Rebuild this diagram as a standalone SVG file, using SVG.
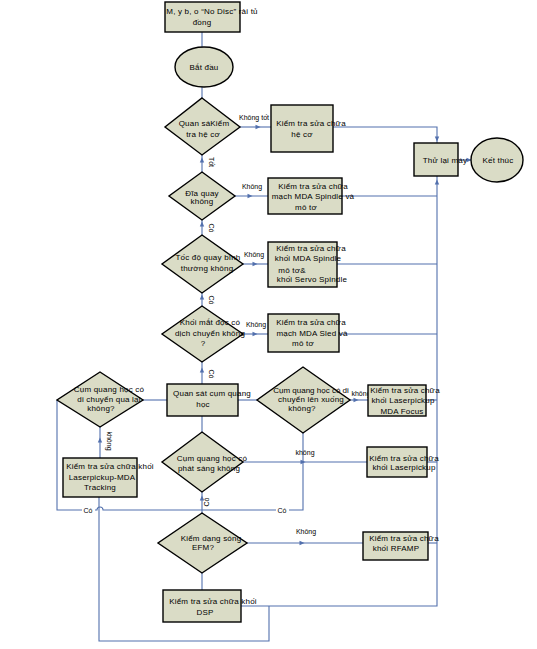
<svg xmlns="http://www.w3.org/2000/svg" xmlns:xlink="http://www.w3.org/1999/xlink" width="537" height="649" viewBox="0 0 537 649">
<style>
.n{fill:#dadcc6;stroke:#000;stroke-width:1.4}
.c{fill:none;stroke:#5270ad;stroke-width:1.1}
.t{font-family:"Liberation Sans",Arial,sans-serif;font-size:8px;fill:#000;text-anchor:middle;letter-spacing:0.2px}
.l{font-family:"Liberation Sans",Arial,sans-serif;font-size:7px;fill:#000;text-anchor:middle}
.ah{fill:#5270ad}
</style>
<defs>
<path id="ah" d="M2.5,0 L-2.5,-2.2 L-2.5,2.2 Z"/>
</defs>
<rect width="537" height="649" fill="#fff"/>
<g id="connectors">
<path class="c" d="M202,32V47"/>
<path class="c" d="M202,87V98"/>
<path class="c" d="M240,127H271"/>
<path class="c" d="M333,127H437V143"/>
<path class="c" d="M202,155V172"/>
<path class="c" d="M235,196H268"/>
<path class="c" d="M342,196H437"/>
<path class="c" d="M202,220V235"/>
<path class="c" d="M243,264H268"/>
<path class="c" d="M337,264H437"/>
<path class="c" d="M202,293V306"/>
<path class="c" d="M243,334H268"/>
<path class="c" d="M339,334H437"/>
<path class="c" d="M202,362V384"/>
<path class="c" d="M143,400H167"/>
<path class="c" d="M238,400H257"/>
<path class="c" d="M350,400H368"/>
<path class="c" d="M426,400H437"/>
<path class="c" d="M202,416V432"/>
<path class="c" d="M243,462H367"/>
<path class="c" d="M427,462H437"/>
<path class="c" d="M303,433V510H202"/>
<path class="c" d="M57,400V510H97A3,3 0 0 1 103,510H202"/>
<path class="c" d="M100,427V458"/>
<path class="c" d="M202,492V513"/>
<path class="c" d="M247,543H363"/>
<path class="c" d="M428,543H437"/>
<path class="c" d="M202,573V590"/>
<path class="c" d="M241,606H437V176"/>
<path class="c" d="M269,606V641H99V497"/>
<path class="c" d="M458,160H472"/>
<use href="#ah" class="ah" transform="translate(258,127)"/>
<use href="#ah" class="ah" transform="translate(437,139) rotate(90)"/>
<use href="#ah" class="ah" transform="translate(202,160) rotate(-90)"/>
<use href="#ah" class="ah" transform="translate(250,196)"/>
<use href="#ah" class="ah" transform="translate(202,224) rotate(-90)"/>
<use href="#ah" class="ah" transform="translate(255,264)"/>
<use href="#ah" class="ah" transform="translate(202,297) rotate(-90)"/>
<use href="#ah" class="ah" transform="translate(255,334)"/>
<use href="#ah" class="ah" transform="translate(202,370) rotate(-90)"/>
<use href="#ah" class="ah" transform="translate(356,400)"/>
<use href="#ah" class="ah" transform="translate(303,462)"/>
<use href="#ah" class="ah" transform="translate(100,440) rotate(-90)"/>
<use href="#ah" class="ah" transform="translate(202,498) rotate(-90)"/>
<use href="#ah" class="ah" transform="translate(302,543)"/>
<use href="#ah" class="ah" transform="translate(437,182) rotate(-90)"/>
<use href="#ah" class="ah" transform="translate(469,160)"/>
<text class="l" x="254" y="120">Không tốt</text>
<text class="l" transform="translate(209,162) rotate(90)">Tốt</text>
<text class="l" x="252" y="189">Không</text>
<text class="l" transform="translate(209,228) rotate(90)">Có</text>
<text class="l" x="254" y="257">Không</text>
<text class="l" transform="translate(209,300) rotate(90)">Có</text>
<text class="l" x="256" y="327">Không</text>
<text class="l" transform="translate(209,374) rotate(90)">Có</text>
<text class="l" transform="translate(107,441) rotate(90)">không</text>
<text class="l" x="305" y="455">không</text>
<rect x="276" y="505" width="13" height="10" fill="#fff"/>
<text class="l" x="282" y="513">Có</text>
<rect x="82" y="505" width="13" height="10" fill="#fff"/>
<text class="l" x="88" y="513">Có</text>
<text class="l" transform="translate(209,502) rotate(-90)">Có</text>
<text class="l" x="306" y="534">Không</text>
</g>
<g id="n_start_msg"><rect class="n" x="165" y="2" width="75" height="30"/><text class="t" x="212" y="14">M, y b, o “No Disc” rải tủ</text><text class="t" x="202" y="25">đồng</text></g>
<g id="n_batdau"><ellipse class="n" cx="204" cy="67" rx="29" ry="20"/><text class="t" x="204" y="70">Bắt đầu</text></g>
<g id="n_d1"><polygon class="n" points="202,98 240,127 202,155 165,127"/><text class="t" x="204" y="126">Quan sáKiểm</text><text class="t" x="203" y="137">tra hệ cơ</text></g>
<g id="n_b1"><rect class="n" x="271" y="105" width="62" height="47"/><text class="t" x="311" y="126">Kiểm tra sửa chữa</text><text class="t" x="302" y="137">hệ cơ</text></g>
<g id="n_thulai"><rect class="n" x="414" y="143" width="44" height="33"/><text class="t" x="445" y="163">Thử lại máy</text></g>
<g id="n_ketthuc"><ellipse class="n" cx="497" cy="160" rx="26" ry="22"/><text class="t" x="498" y="163">Kết thúc</text></g>
<g id="n_d2"><polygon class="n" points="202,172 235,196 202,220 169,196"/><text class="t" x="202" y="196">Đĩa quay</text><text class="t" x="202" y="204">không</text></g>
<g id="n_b2"><rect class="n" x="268" y="178" width="74" height="36"/><text class="t" x="313" y="189">Kiểm tra sửa chữa</text><text class="t" x="313" y="199">mạch MDA Spindle và</text><text class="t" x="306" y="210">mô tơ</text></g>
<g id="n_d3"><polygon class="n" points="202,235 243,264 202,293 162,264"/><text class="t" x="208" y="260">Tốc độ quay bình</text><text class="t" x="207" y="271">thường không</text></g>
<g id="n_b3"><rect class="n" x="268" y="242" width="69" height="45"/><text class="t" x="311" y="251">Kiểm tra sửa chữa</text><text class="t" x="308" y="261">khối MDA Spindle</text><text class="t" x="292" y="273">mô tơ&amp;</text><text class="t" x="312" y="282">khối Servo Spindle</text></g>
<g id="n_d4"><polygon class="n" points="202,306 243,334 202,362 162,334"/><text class="t" x="210" y="325">Khối mắt đọc có</text><text class="t" x="210" y="336">dịch chuyển không</text><text class="t" x="203" y="346">?</text></g>
<g id="n_b4"><rect class="n" x="268" y="314" width="71" height="38"/><text class="t" x="311" y="325">Kiểm tra sửa chữa</text><text class="t" x="312" y="336">mạch MDA Sled và</text><text class="t" x="303" y="346">mô tơ</text></g>
<g id="n_quansat"><rect class="n" x="167" y="384" width="71" height="32"/><text class="t" x="212" y="396">Quan sát cụm quang</text><text class="t" x="203" y="407">học</text></g>
<g id="n_dleft"><polygon class="n" points="100,372 143,400 100,427 57,400"/><text class="t" x="109" y="392">Cụm quang học có</text><text class="t" x="109" y="402">di chuyển qua lại</text><text class="t" x="101" y="411">không?</text></g>
<g id="n_dright"><polygon class="n" points="303,367 350,400 303,433 257,400"/><text class="t" x="311" y="393" style="letter-spacing:0">Cụm quang học có di</text><text class="t" x="311" y="402">chuyển lên xuống</text><text class="t" x="302" y="411">không?</text><text class="l" x="361" y="396">không</text></g>
<g id="n_focus"><rect class="n" x="368" y="385" width="58" height="31"/><text class="t" x="405" y="393">Kiểm tra sửa chữa</text><text class="t" x="403" y="403">khối Laserpickup</text><text class="t" x="402" y="414">MDA Focus</text></g>
<g id="n_dphat"><polygon class="n" points="202,432 243,462 202,492 162,462"/><text class="t" x="212" y="461">Cụm quang học có</text><text class="t" x="209" y="471">phát sáng không</text></g>
<g id="n_laser"><rect class="n" x="367" y="447" width="60" height="30"/><text class="t" x="404" y="461">Kiểm tra sửa chữa</text><text class="t" x="404" y="470">khối Laserpickup</text></g>
<g id="n_tracking"><rect class="n" x="63" y="458" width="74" height="39"/><text class="t" x="110" y="469">Kiểm tra sửa chữa khối</text><text class="t" x="102" y="480">Laserpickup-MDA</text><text class="t" x="100" y="490">Tracking</text></g>
<g id="n_defm"><polygon class="n" points="202,513 247,543 202,573 158,543"/><text class="t" x="211" y="541">Kiểm dạng sóng</text><text class="t" x="203" y="550">EFM?</text></g>
<g id="n_rfamp"><rect class="n" x="363" y="532" width="65" height="28"/><text class="t" x="404" y="541">Kiểm tra sửa chữa</text><text class="t" x="396" y="551">khối RFAMP</text></g>
<g id="n_dsp"><rect class="n" x="163" y="590" width="78" height="32"/><text class="t" x="213" y="604">Kiểm tra sửa chữa khối</text><text class="t" x="205" y="615">DSP</text></g>
</svg>
